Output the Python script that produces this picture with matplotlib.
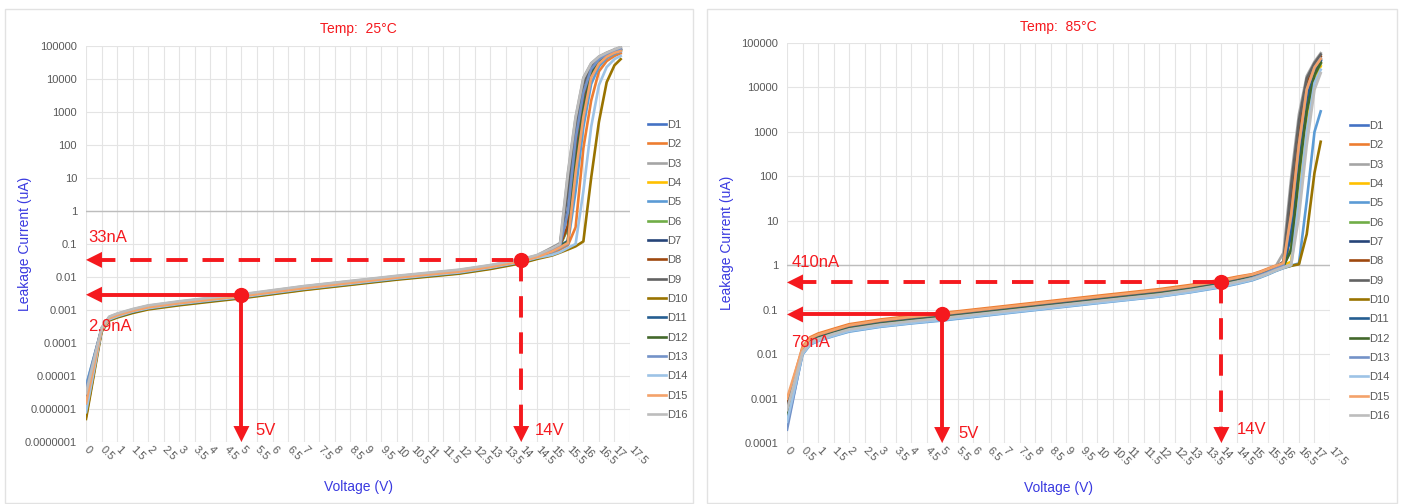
import numpy as np
import matplotlib
matplotlib.use('Agg')
import matplotlib.pyplot as plt
from matplotlib.patches import Rectangle
from matplotlib.ticker import FixedLocator, NullLocator, FuncFormatter

plt.rcParams['font.family'] = ['Liberation Sans', 'DejaVu Sans']

# Measured points (V) and leakage per device (uA)
volts = [0, 0.5, 0.75, 1, 1.5, 2, 3, 4, 5, 7, 10, 12, 13, 14, 14.5,
         15, 15.25, 15.5, 15.75, 16, 16.25, 16.5, 16.75, 17, 17.2]

devices = ['D1', 'D2', 'D3', 'D4', 'D5', 'D6', 'D7', 'D8',
           'D9', 'D10', 'D11', 'D12', 'D13', 'D14', 'D15', 'D16']

dev_colors = ['#4472C4', '#ED7D31', '#A5A5A5', '#FFC000', '#5B9BD5', '#70AD47',
              '#264478', '#9E480E', '#636363', '#997300', '#255E91', '#43682B',
              '#7392C8', '#9DC3E6', '#F4A26A', '#BDBDBD']

leak_25c = [
    [3e-6, 2.5e-4, 5.5e-4, 6.8e-4, 9.3e-4, 1.2e-3, 1.6e-3, 2.05e-3, 2.6e-3, 4.6e-3, 9.5e-3, 1.45e-2, 2.0e-2, 3.0e-2, 4.0e-2, 0.068, 0.091, 0.32, 80, 2200, 1.8e4, 3.7e4, 5.4e4, 6.9e4, 8e4],
    [1e-6, 2.3e-4, 5.1e-4, 6.3e-4, 8.6e-4, 1.1e-3, 1.47e-3, 1.89e-3, 2.4e-3, 4.2e-3, 8.7e-3, 1.33e-2, 1.84e-2, 2.76e-2, 3.7e-2, 0.052, 0.068, 0.091, 0.32, 80, 2200, 1.7e4, 3.5e4, 5e4, 6e4],
    [4.5e-6, 2.8e-4, 6.2e-4, 7.6e-4, 1.04e-3, 1.34e-3, 1.79e-3, 2.3e-3, 2.9e-3, 5.2e-3, 1.06e-2, 1.62e-2, 2.24e-2, 3.36e-2, 4.5e-2, 0.079, 0.107, 14, 710, 1.1e4, 3.0e4, 4.8e4, 6.3e4, 7.9e4, 9.3e4],
    [1.5e-6, 2.25e-4, 5e-4, 6.1e-4, 8.4e-4, 1.08e-3, 1.44e-3, 1.85e-3, 2.34e-3, 4.1e-3, 8.6e-3, 1.3e-2, 1.8e-2, 2.7e-2, 3.6e-2, 0.063, 0.085, 0.12, 28, 1260, 1.4e4, 3.3e4, 5e4, 6.6e4, 7.6e4],
    [5e-6, 2.6e-4, 5.8e-4, 7.1e-4, 9.8e-4, 1.26e-3, 1.68e-3, 2.15e-3, 2.73e-3, 4.8e-3, 1.0e-2, 1.52e-2, 2.1e-2, 3.15e-2, 4.2e-2, 0.057, 0.076, 0.1, 4, 350, 7000, 2.4e4, 4.3e4, 5.8e4, 6.8e4],
    [2e-6, 2.4e-4, 5.2e-4, 6.5e-4, 8.8e-4, 1.14e-3, 1.52e-3, 1.95e-3, 2.47e-3, 4.4e-3, 9.0e-3, 1.38e-2, 1.9e-2, 2.85e-2, 3.8e-2, 0.066, 0.088, 0.3, 75, 2100, 1.75e4, 3.6e4, 5.3e4, 6.8e4, 7.9e4],
    [2.5e-6, 2.55e-4, 5.6e-4, 6.9e-4, 9.5e-4, 1.22e-3, 1.63e-3, 2.09e-3, 2.65e-3, 4.7e-3, 9.7e-3, 1.48e-2, 2.04e-2, 3.06e-2, 4.1e-2, 0.072, 0.095, 1.0, 160, 4000, 2.1e4, 4e4, 5.8e4, 7.2e4, 8.3e4],
    [6e-7, 2.5e-4, 5.5e-4, 6.8e-4, 9.2e-4, 1.19e-3, 1.59e-3, 2.04e-3, 2.58e-3, 4.55e-3, 9.4e-3, 1.44e-2, 1.98e-2, 2.98e-2, 3.95e-2, 0.07, 0.093, 0.35, 85, 2400, 1.9e4, 3.8e4, 5.6e4, 7.1e4, 8.3e4],
    [3.5e-6, 2.7e-4, 5.9e-4, 7.3e-4, 1.0e-3, 1.3e-3, 1.73e-3, 2.2e-3, 2.8e-3, 5.0e-3, 1.03e-2, 1.57e-2, 2.16e-2, 3.24e-2, 4.3e-2, 0.076, 0.1, 4, 355, 7000, 2.5e4, 4.5e4, 6e4, 7.6e4, 8.7e4],
    [5e-7, 2.2e-4, 4.8e-4, 5.9e-4, 8.1e-4, 1.04e-3, 1.39e-3, 1.78e-3, 2.26e-3, 4.0e-3, 8.3e-3, 1.26e-2, 1.74e-2, 2.6e-2, 3.5e-2, 0.045, 0.055, 0.068, 0.085, 0.12, 10, 500, 8000, 2.6e4, 4e4],
    [2e-6, 2.45e-4, 5.4e-4, 6.7e-4, 9.1e-4, 1.18e-3, 1.57e-3, 2.0e-3, 2.55e-3, 4.5e-3, 9.3e-3, 1.42e-2, 1.96e-2, 2.94e-2, 3.9e-2, 0.065, 0.087, 0.125, 30, 1300, 1.45e4, 3.4e4, 5.1e4, 6.7e4, 7.8e4],
    [1.2e-6, 2.3e-4, 5.1e-4, 6.3e-4, 8.6e-4, 1.12e-3, 1.49e-3, 1.9e-3, 2.42e-3, 4.3e-3, 8.8e-3, 1.35e-2, 1.86e-2, 2.8e-2, 3.7e-2, 0.062, 0.083, 0.115, 25, 1150, 1.3e4, 3.1e4, 4.8e4, 6.3e4, 7.3e4],
    [4e-6, 2.65e-4, 5.7e-4, 7.2e-4, 9.7e-4, 1.25e-3, 1.67e-3, 2.14e-3, 2.72e-3, 4.8e-3, 9.9e-3, 1.5e-2, 2.1e-2, 3.1e-2, 4.2e-2, 0.07, 0.092, 0.9, 150, 3800, 2.0e4, 3.9e4, 5.6e4, 7e4, 8.1e4],
    [8e-7, 2.35e-4, 5.2e-4, 6.4e-4, 8.9e-4, 1.13e-3, 1.52e-3, 1.95e-3, 2.46e-3, 4.35e-3, 9.0e-3, 1.37e-2, 1.9e-2, 2.85e-2, 3.8e-2, 0.047, 0.057, 0.076, 0.1, 4, 350, 6500, 2.3e4, 4e4, 5e4],
    [1.5e-6, 2.5e-4, 5.6e-4, 6.9e-4, 9.4e-4, 1.21e-3, 1.61e-3, 2.06e-3, 2.62e-3, 4.6e-3, 9.6e-3, 1.46e-2, 2.0e-2, 3.0e-2, 4.0e-2, 0.06, 0.079, 0.107, 14, 700, 1.1e4, 2.9e4, 4.7e4, 6.2e4, 7e4],
    [3e-6, 2.9e-4, 6.3e-4, 7.8e-4, 1.07e-3, 1.38e-3, 1.84e-3, 2.36e-3, 3.0e-3, 5.3e-3, 1.09e-2, 1.67e-2, 2.3e-2, 3.45e-2, 4.6e-2, 0.075, 0.1, 12, 650, 1.05e4, 2.9e4, 4.7e4, 6.2e4, 7.8e4, 9.2e4],
]

leak_85c = [
    [4e-4, 1.2e-2, 2.0e-2, 2.4e-2, 3.1e-2, 3.9e-2, 5.0e-2, 6.0e-2, 7.0e-2, 1.0e-1, 1.7e-1, 2.4e-1, 3.0e-1, 3.9e-1, 4.6e-1, 0.55, 0.63, 0.73, 0.86, 1.0, 5.6, 250, 5600, 2.4e4, 4e4],
    [8e-4, 1.45e-2, 2.4e-2, 2.9e-2, 3.7e-2, 4.7e-2, 6.0e-2, 7.2e-2, 8.4e-2, 1.2e-1, 2.05e-1, 2.9e-1, 3.6e-1, 4.7e-1, 5.5e-1, 0.63, 0.72, 0.84, 0.98, 1.12, 2.5, 125, 3200, 2e4, 3.5e4],
    [6e-4, 1.3e-2, 2.15e-2, 2.6e-2, 3.35e-2, 4.2e-2, 5.4e-2, 6.5e-2, 7.6e-2, 1.08e-1, 1.84e-1, 2.6e-1, 3.25e-1, 4.2e-1, 5.0e-1, 0.6, 0.68, 0.8, 0.95, 1.9, 95, 2500, 1.8e4, 3.8e4, 5.9e4],
    [5e-4, 1.22e-2, 2.04e-2, 2.45e-2, 3.15e-2, 4.0e-2, 5.1e-2, 6.1e-2, 7.1e-2, 1.02e-1, 1.73e-1, 2.45e-1, 3.06e-1, 4.0e-1, 4.7e-1, 0.56, 0.64, 0.74, 0.87, 1.0, 1.2, 63, 1800, 1.6e4, 3e4],
    [2.5e-4, 9.8e-3, 1.64e-2, 1.97e-2, 2.55e-2, 3.2e-2, 4.1e-2, 4.9e-2, 5.7e-2, 8.2e-2, 1.4e-1, 1.97e-1, 2.46e-1, 3.2e-1, 3.8e-1, 0.46, 0.53, 0.62, 0.74, 0.86, 0.98, 1.1, 28, 1000, 2900],
    [5e-4, 1.16e-2, 1.94e-2, 2.33e-2, 3.0e-2, 3.8e-2, 4.85e-2, 5.8e-2, 6.8e-2, 9.7e-2, 1.65e-1, 2.33e-1, 2.9e-1, 3.8e-1, 4.45e-1, 0.54, 0.62, 0.72, 0.85, 0.98, 2.3, 120, 3000, 1.9e4, 3.4e4],
    [3e-4, 1.18e-2, 1.96e-2, 2.35e-2, 3.04e-2, 3.82e-2, 4.9e-2, 5.9e-2, 6.9e-2, 9.8e-2, 1.67e-1, 2.35e-1, 2.94e-1, 3.82e-1, 4.5e-1, 0.54, 0.62, 0.72, 0.85, 0.98, 5.2, 240, 5400, 2.4e4, 4.2e4],
    [7e-4, 1.24e-2, 2.06e-2, 2.47e-2, 3.2e-2, 4.0e-2, 5.15e-2, 6.2e-2, 7.2e-2, 1.03e-1, 1.75e-1, 2.47e-1, 3.1e-1, 4.0e-1, 4.75e-1, 0.56, 0.64, 0.75, 0.9, 1.05, 28, 1000, 1.26e4, 3.2e4, 5e4],
    [6e-4, 1.26e-2, 2.1e-2, 2.5e-2, 3.25e-2, 4.1e-2, 5.25e-2, 6.3e-2, 7.35e-2, 1.05e-1, 1.8e-1, 2.5e-1, 3.15e-1, 4.1e-1, 4.8e-1, 0.58, 0.66, 0.78, 0.92, 1.2, 63, 1800, 1.6e4, 3.5e4, 5.5e4],
    [4e-4, 1.06e-2, 1.76e-2, 2.1e-2, 2.7e-2, 3.4e-2, 4.4e-2, 5.3e-2, 6.2e-2, 8.8e-2, 1.5e-1, 2.1e-1, 2.64e-1, 3.4e-1, 4.05e-1, 0.48, 0.55, 0.64, 0.76, 0.88, 0.97, 1.05, 5, 120, 600],
    [3.5e-4, 1.15e-2, 1.92e-2, 2.3e-2, 2.98e-2, 3.75e-2, 4.8e-2, 5.75e-2, 6.7e-2, 9.6e-2, 1.63e-1, 2.3e-1, 2.88e-1, 3.75e-1, 4.4e-1, 0.53, 0.61, 0.71, 0.84, 0.97, 5, 230, 5200, 2.3e4, 3.9e4],
    [4.5e-4, 1.14e-2, 1.9e-2, 2.28e-2, 2.95e-2, 3.7e-2, 4.75e-2, 5.7e-2, 6.65e-2, 9.5e-2, 1.6e-1, 2.28e-1, 2.85e-1, 3.7e-1, 4.35e-1, 0.53, 0.6, 0.7, 0.83, 0.96, 2.2, 115, 2900, 1.9e4, 3.6e4],
    [2e-4, 1.08e-2, 1.8e-2, 2.16e-2, 2.8e-2, 3.5e-2, 4.5e-2, 5.4e-2, 6.3e-2, 9.0e-2, 1.53e-1, 2.16e-1, 2.7e-1, 3.5e-1, 4.15e-1, 0.52, 0.6, 0.7, 0.84, 1.0, 12.6, 500, 8900, 2.8e4, 4.5e4],
    [3e-4, 1.0e-2, 1.68e-2, 2.0e-2, 2.6e-2, 3.3e-2, 4.2e-2, 5.0e-2, 5.9e-2, 8.4e-2, 1.43e-1, 2.0e-1, 2.5e-1, 3.3e-1, 3.9e-1, 0.47, 0.54, 0.63, 0.75, 0.87, 1.0, 28, 1000, 1.26e4, 2.5e4],
    [1e-3, 1.37e-2, 2.28e-2, 2.74e-2, 3.5e-2, 4.45e-2, 5.7e-2, 6.85e-2, 8.0e-2, 1.14e-1, 1.94e-1, 2.74e-1, 3.4e-1, 4.45e-1, 5.25e-1, 0.62, 0.7, 0.82, 0.96, 1.12, 14, 520, 9000, 2.8e4, 4.4e4],
    [5.5e-4, 1.1e-2, 1.84e-2, 2.2e-2, 2.85e-2, 3.6e-2, 4.6e-2, 5.5e-2, 6.45e-2, 9.2e-2, 1.56e-1, 2.2e-1, 2.76e-1, 3.6e-1, 4.25e-1, 0.5, 0.57, 0.66, 0.78, 0.9, 1.05, 12.6, 500, 8900, 2.1e4],
]

# operating points: (V, uA, label)
marks_25c = [(5, 0.0029, '2.9nA'), (14, 0.033, '33nA')]
marks_85c = [(5, 0.078, '78nA'), (14, 0.41, '410nA')]

RED = '#F5191E'
BLUE = '#3A3AE0'
GREY_TXT = '#595959'

W, H = 1402, 504
fig = plt.figure(figsize=(W / 100, H / 100), dpi=100)

# white cards behind each chart
for x0, x1 in [(5, 693), (707, 1397)]:
    fig.patches.append(Rectangle((x0 / W, 1 / H), (x1 - x0) / W, 494 / H,
                                 transform=fig.transFigure, facecolor='white',
                                 edgecolor='#E2E2E2', lw=1, zorder=-5))


def dec_label(v, pos):
    return np.format_float_positional(v, trim='-')


def head(ax, xy, off):
    ax.annotate('', xy=xy, xytext=off, textcoords='offset points',
                arrowprops=dict(arrowstyle='-|>,head_length=1.0,head_width=0.5',
                                mutation_scale=11.5, color=RED, lw=0,
                                shrinkA=0, shrinkB=0), zorder=6)


def panel(px, ymin, leak, marks, title, txt_offs, leg_xy):
    left, top, right, bottom = px
    ax = fig.add_axes([left / W, 1 - bottom / H, (right - left) / W, (bottom - top) / H])
    ax.patch.set_alpha(0)
    for i in range(len(devices)):
        ax.plot(volts, leak[i], color=dev_colors[i], lw=1.9, label=devices[i],
                solid_joinstyle='round', zorder=3)

    ax.set_yscale('log')
    ax.set_xlim(0, 17.5)
    ax.set_ylim(ymin, 1e5)
    ax.set_axisbelow(True)
    for s in ax.spines.values():
        s.set_visible(False)

    vt = [k / 2 for k in range(36)]
    ax.xaxis.set_major_locator(FixedLocator(vt))
    ax.set_xticklabels(['%g' % t for t in vt], rotation=-45, ha='left', va='center',
                       rotation_mode='anchor')
    decades = [10.0 ** k for k in range(int(round(np.log10(ymin))), 6)]
    ax.yaxis.set_major_locator(FixedLocator(decades))
    ax.yaxis.set_minor_locator(NullLocator())
    ax.yaxis.set_major_formatter(FuncFormatter(dec_label))
    ax.tick_params(length=0, labelsize=8, colors=GREY_TXT)
    ax.tick_params(axis='y', pad=6.5)
    ax.tick_params(axis='x', pad=4)
    ax.grid(True, color='#E4E4E4', lw=0.8)
    ax.axhline(1, color='#BDBDBD', lw=1.0, zorder=1)

    ax.set_ylabel('Leakage Current (uA)', color=BLUE, fontsize=10, va='center')
    ax.yaxis.set_label_coords((txt_offs['ylab'] - left) / (right - left), 0.5)
    ax.set_xlabel('Voltage (V)', color=BLUE, fontsize=10, va='center')
    ax.xaxis.set_label_coords(0.5, -(txt_offs['xlab'] - bottom) / (bottom - top))
    ax.text(0.5, 1 + (top - txt_offs['title']) / (bottom - top), title, color=RED,
            fontsize=10, ha='center', va='center', transform=ax.transAxes)

    # operating-point guides: solid for 5 V, dashed for 14 V
    styles = ['-', (0, (5.5, 3.8))]
    for k in range(2):
        v, cur, lab = marks[k]
        ls = styles[k]
        ax.plot([0.25, v], [cur, cur], color=RED, lw=2.8, ls=ls, zorder=5,
                solid_capstyle='butt', dash_capstyle='butt')
        ax.plot([v, v], [cur, ymin * 1.6], color=RED, lw=2.8, ls=ls, zorder=5,
                solid_capstyle='butt', dash_capstyle='butt')
        head(ax, (0, cur), (12, 0))
        head(ax, (v, ymin), (0, 12))
        ax.plot([v], [cur], 'o', ms=10, color=RED, zorder=6)
        dx, dy = txt_offs['cur'][k]
        ax.annotate(lab, xy=(0, cur), xytext=(dx, dy), textcoords='offset points',
                    color=RED, fontsize=12, ha='left', va='center', zorder=7)
        dx, dy = txt_offs['volt'][k]
        ax.annotate('%gV' % v, xy=(v, ymin), xytext=(dx, dy), textcoords='offset points',
                    color=RED, fontsize=12, ha='left', va='center', zorder=7)

    ax.legend(loc='upper left', bbox_to_anchor=(leg_xy[0] / W, 1 - leg_xy[1] / H),
              bbox_transform=fig.transFigure, frameon=False, fontsize=8,
              handlelength=1.6, handletextpad=0.15, labelspacing=0.84,
              borderpad=0, borderaxespad=0, labelcolor=GREY_TXT)
    return ax


panel((86, 46, 630, 442), 1e-7, leak_25c, marks_25c, 'Temp:  25\u00b0C',
      {'ylab': 25, 'xlab': 487, 'title': 29,
       'cur': [(1.5, -23), (1.5, 16)], 'volt': [(9.8, 8.6), (9.6, 8.6)]},
      (648, 120))
panel((787, 43, 1330, 443), 1e-4, leak_85c, marks_85c, 'Temp:  85\u00b0C',
      {'ylab': 727, 'xlab': 488, 'title': 27,
       'cur': [(3, -20.5), (3.6, 14.5)], 'volt': [(11.4, 6.5), (11, 9.4)]},
      (1350, 121))

fig.savefig('out.png', dpi=100, facecolor='white')
